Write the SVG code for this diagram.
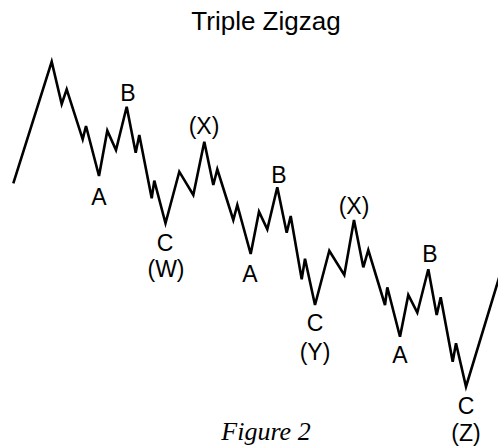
<svg xmlns="http://www.w3.org/2000/svg" width="498" height="446" viewBox="0 0 498 446">
<style>
.lbl{font-family:"Liberation Sans",Arial,sans-serif;font-size:23px;fill:#000;text-anchor:middle}
.title{font-family:"Liberation Sans",Arial,sans-serif;font-size:26px;fill:#000;text-anchor:middle}
.fig{font-family:"Liberation Serif","Times New Roman",serif;font-style:italic;font-size:26px;fill:#000;text-anchor:middle}
.wave{fill:none;stroke:#000;stroke-width:2.6;stroke-linejoin:miter;stroke-linecap:butt}
</style>
<rect width="498" height="446" fill="#fff"/>
<g id="title"><text class="title" x="266" y="30">Triple Zigzag</text></g>
<g id="connectors">
<polyline class="wave" points="13.3,183.3 51.7,61.7 61.7,104 66.7,89.3 82.7,139.3 86,126 99,176 107.3,130.7 116,150 126.7,106.7 135.7,152.7 139.3,135 151.7,198.3 154.3,180.7 165.5,223.3 179.3,171.7 193.3,195 204.3,141.7 213.3,185 217.3,169.3 233.3,220 237.3,205 250.7,254 259,211.7 267.3,229.3 277.3,187.3 286.7,232.7 290.7,216 301.7,279.3 305,258.8 315,305 329.3,250.7 344.3,275 354,220 363.3,267.3 368.3,250 385,305 387.3,287.3 400,336.7 408.3,295 417.3,312.7 428.3,269.3 436.7,315 440.7,297.3 452.7,361.7 456,343.3 466,386.7 502,268"/>
</g>
<g id="w-a"><text class="lbl" x="99" y="205">A</text></g>
<g id="w-b"><text class="lbl" x="128" y="101">B</text></g>
<g id="w-c"><text class="lbl" x="165" y="251">C</text><text class="lbl" x="166" y="277">(W)</text></g>
<g id="x1"><text class="lbl" x="204" y="134">(X)</text></g>
<g id="y-a"><text class="lbl" x="250" y="282">A</text></g>
<g id="y-b"><text class="lbl" x="279" y="183">B</text></g>
<g id="y-c"><text class="lbl" x="315" y="331">C</text><text class="lbl" x="315" y="360">(Y)</text></g>
<g id="x2"><text class="lbl" x="354" y="214">(X)</text></g>
<g id="z-a"><text class="lbl" x="400" y="363">A</text></g>
<g id="z-b"><text class="lbl" x="430" y="262">B</text></g>
<g id="z-c"><text class="lbl" x="466" y="414">C</text><text class="lbl" x="466" y="441">(Z)</text></g>
<g id="caption"><text class="fig" x="266" y="440">Figure 2</text></g>
</svg>
